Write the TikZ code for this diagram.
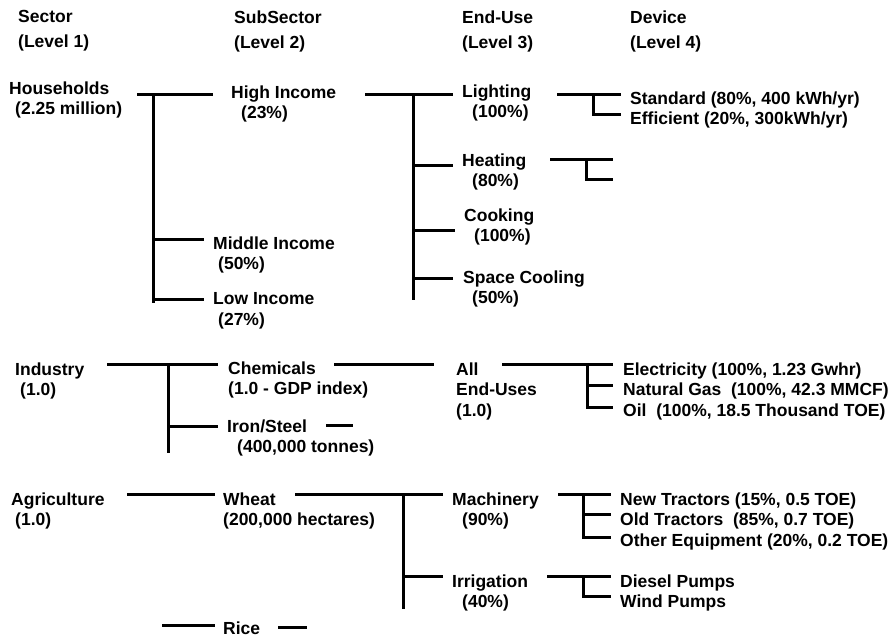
\documentclass[tikz,border=0pt]{standalone}
\usepackage{fontspec}
\setmainfont{Liberation Sans}

\begin{document}
\begin{tikzpicture}[x=1pt, y=-1pt,
  lbl/.style={anchor=west, inner sep=0pt, align=left, font=\bfseries\fontsize{17.5}{20.5}\selectfont},
  bar/.style={line width=3pt}]
  \useasboundingbox (0,0) rectangle (892,635);

  % En-tetes
  \node[lbl] (sec) at (18,31) {Sector\\[4.5pt](Level 1)};
  \node[lbl] (sub) at (234,31) {SubSector\\[4.5pt](Level 2)};
  \node[lbl] (eu) at (462,31) {End-Use\\[4.5pt](Level 3)};
  \node[lbl] (dev) at (630,31) {Device\\[4.5pt](Level 4)};

  % Menages
  \node[lbl] (hh) at (9,100) {Households\\\hspace*{6pt}(2.25 million)};
  \node[lbl] (hi) at (231,104) {High Income\\\hspace*{10pt}(23\%)};
  \node[lbl] (mi) at (213,255) {Middle Income\\\hspace*{5pt}(50\%)};
  \node[lbl] (li) at (213,311) {Low Income\\\hspace*{5pt}(27\%)};
  \node[lbl] (light) at (462,103) {Lighting\\\hspace*{10pt}(100\%)};
  \node[lbl] (heat) at (462,172) {Heating\\\hspace*{10pt}(80\%)};
  \node[lbl] (cook) at (464,227) {Cooking\\\hspace*{10pt}(100\%)};
  \node[lbl] (cool) at (463,289) {Space Cooling\\\hspace*{9pt}(50\%)};
  \node[lbl] (lamp) at (630,110) {Standard (80\%, 400 kWh/yr)\\Efficient (20\%, 300kWh/yr)};

  \coordinate (hh-out) at (137,94);
  \coordinate (hh-j) at (153,94);
  \coordinate (hh-end) at (153,303);
  \coordinate (hi-in) at (213,94);
  \coordinate (mi-in) at (204,239);
  \coordinate (li-in) at (204,299);
  \draw[bar] (hh-out) -- (hi-in);
  \draw[bar] (hh-j) -- (hh-end);
  \draw[bar] (hh-j |- mi-in) -- (mi-in);
  \draw[bar] (hh-j |- li-in) -- (li-in);

  \coordinate (hi-out) at (365,94);
  \coordinate (hi-j) at (413,94);
  \coordinate (hi-end) at (413,300);
  \coordinate (light-in) at (453,94);
  \coordinate (heat-in) at (453,165);
  \coordinate (cook-in) at (455,230);
  \coordinate (cool-in) at (453,278);
  \draw[bar] (hi-out) -- (light-in);
  \draw[bar] (hi-j) -- (hi-end);
  \draw[bar] (hi-j |- heat-in) -- (heat-in);
  \draw[bar] (hi-j |- cook-in) -- (cook-in);
  \draw[bar] (hi-j |- cool-in) -- (cool-in);

  \coordinate (light-out) at (557,94);
  \coordinate (light-j) at (593,94);
  \coordinate (std-in) at (621,94);
  \coordinate (eff-in) at (621,114);
  \draw[bar] (light-out) -- (std-in);
  \draw[bar] (light-j) -- (light-j |- eff-in) -- (eff-in);

  \coordinate (heat-out) at (550,159);
  \coordinate (heat-j) at (586,159);
  \coordinate (heat-a) at (613,159);
  \coordinate (heat-b) at (613,179);
  \draw[bar] (heat-out) -- (heat-a);
  \draw[bar] (heat-j) -- (heat-j |- heat-b) -- (heat-b);

  % Industrie
  \node[lbl] (ind) at (15,381) {Industry\\\hspace*{5pt}(1.0)};
  \node[lbl] (chem) at (228,380) {Chemicals\\(1.0 - GDP index)};
  \node[lbl] (iron) at (227,438) {Iron/Steel\\\hspace*{10pt}(400,000 tonnes)};
  \node[lbl] (all) at (456,391) {All\\End-Uses\\(1.0)};
  \node[lbl] (fuel) at (623,391) {Electricity (100\%, 1.23 Gwhr)\\Natural Gas\ \ (100\%, 42.3 MMCF)\\Oil\ \ (100\%, 18.5 Thousand TOE)};

  \coordinate (ind-out) at (107,364);
  \coordinate (ind-j) at (168,364);
  \coordinate (ind-end) at (168,453);
  \coordinate (chem-in) at (218,364);
  \coordinate (iron-in) at (218,426);
  \draw[bar] (ind-out) -- (chem-in);
  \draw[bar] (ind-j) -- (ind-end);
  \draw[bar] (ind-j |- iron-in) -- (iron-in);

  \coordinate (iron-out) at (326,425);
  \coordinate (iron-end) at (353,425);
  \draw[bar] (iron-out) -- (iron-end);

  \coordinate (chem-out) at (334,364);
  \coordinate (all-in) at (434,364);
  \draw[bar] (chem-out) -- (all-in);

  \coordinate (all-out) at (502,364);
  \coordinate (all-j) at (587,364);
  \coordinate (elec-in) at (613,364);
  \coordinate (gas-in) at (613,385);
  \coordinate (oil-in) at (613,407);
  \draw[bar] (all-out) -- (elec-in);
  \draw[bar] (all-j) -- (all-j |- oil-in) -- (oil-in);
  \draw[bar] (all-j |- gas-in) -- (gas-in);

  % Agriculture
  \node[lbl] (agr) at (11,511) {Agriculture\\\hspace*{4pt}(1.0)};
  \node[lbl] (wheat) at (223,511) {Wheat\\(200,000 hectares)};
  \node[lbl] (mach) at (452,511) {Machinery\\\hspace*{10pt}(90\%)};
  \node[lbl] (irr) at (452,593) {Irrigation\\\hspace*{10pt}(40\%)};
  \node[lbl] (tract) at (620,521) {New Tractors (15\%, 0.5 TOE)\\Old Tractors\ \ (85\%, 0.7 TOE)\\Other Equipment (20\%, 0.2 TOE)};
  \node[lbl] (pump) at (620,593) {Diesel Pumps\\Wind Pumps};
  \node[lbl] (rice) at (223,628) {Rice};

  \coordinate (agr-out) at (127,494);
  \coordinate (wheat-in) at (215,494);
  \draw[bar] (agr-out) -- (wheat-in);

  \coordinate (wheat-out) at (295,494);
  \coordinate (wheat-j) at (403,494);
  \coordinate (wheat-end) at (403,609);
  \coordinate (mach-in) at (443,494);
  \coordinate (irr-in) at (443,576);
  \draw[bar] (wheat-out) -- (mach-in);
  \draw[bar] (wheat-j) -- (wheat-end);
  \draw[bar] (wheat-j |- irr-in) -- (irr-in);

  \coordinate (mach-out) at (558,494);
  \coordinate (mach-j) at (583,494);
  \coordinate (new-in) at (611,494);
  \coordinate (old-in) at (611,514);
  \coordinate (oth-in) at (611,537);
  \draw[bar] (mach-out) -- (new-in);
  \draw[bar] (mach-j) -- (mach-j |- oth-in) -- (oth-in);
  \draw[bar] (mach-j |- old-in) -- (old-in);

  \coordinate (irr-out) at (547,576);
  \coordinate (irr-j) at (583,576);
  \coordinate (dsl-in) at (611,576);
  \coordinate (wnd-in) at (611,596);
  \draw[bar] (irr-out) -- (dsl-in);
  \draw[bar] (irr-j) -- (irr-j |- wnd-in) -- (wnd-in);

  \coordinate (rice-a) at (162,625);
  \coordinate (rice-in) at (215,625);
  \coordinate (rice-out) at (278,627);
  \coordinate (rice-end) at (307,627);
  \draw[bar] (rice-a) -- (rice-in);
  \draw[bar] (rice-out) -- (rice-end);
\end{tikzpicture}
\end{document}
